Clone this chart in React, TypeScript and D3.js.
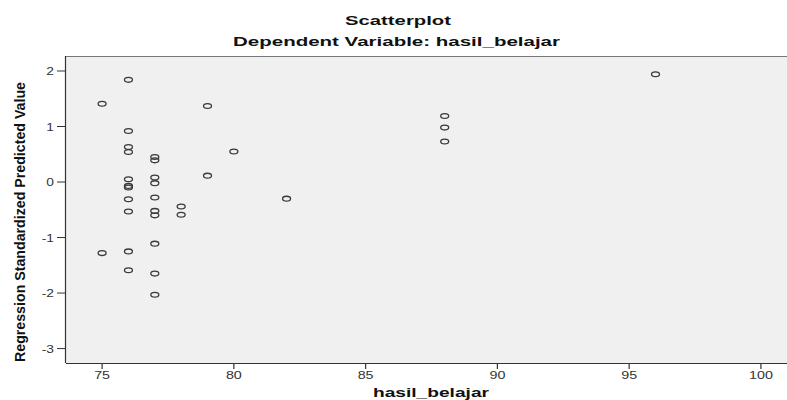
import React from "react";
import * as d3 from "d3";

const titleLines = ["Scatterplot", "Dependent Variable: hasil_belajar"];
const xLabel = "hasil_belajar";
const yLabel = "Regression Standardized Predicted Value";

const xTicks = [75, 80, 85, 90, 95, 100];
const yTicks = [2, 1, 0, -1, -2, -3];

// observed hasil_belajar values
const xValues = [
  75, 75,
  76, 76, 76, 76, 76, 76, 76, 76, 76, 76, 76,
  77, 77, 77, 77, 77, 77, 77, 77, 77, 77,
  78, 78,
  79, 79,
  80,
  82,
  88, 88, 88,
  96,
];
// regression standardized predicted values
const yValues = [
  1.41, -1.28,
  1.84, 0.92, 0.63, 0.54, 0.05, -0.07, -0.1, -0.31, -0.53, -1.25, -1.59,
  0.45, 0.39, 0.08, -0.02, -0.28, -0.52, -0.6, -1.11, -1.65, -2.03,
  -0.44, -0.59,
  1.37, 0.115,
  0.55,
  -0.3,
  1.19, 0.98, 0.73,
  1.94,
];

const W = 787;
const H = 400;
const plotLeft = 66;
const plotRight = 787;
const plotTop = 56;
const plotBottom = 363;

export default function App() {
  const x = d3.scaleLinear().domain([73.63, 100.99]).range([plotLeft, plotRight]);
  const y = d3.scaleLinear().domain([-3.26, 2.27]).range([plotBottom, plotTop]);
  const pts = xValues.map((v, i) => ({ x: v, y: yValues[i] }));
  const font = "'Liberation Sans', Arial, sans-serif";
  const ink = "#333";

  return (
    <svg
      width={W}
      height={H}
      style={{ position: "absolute", left: 0, top: 0, background: "#fff" }}
      fontFamily={font}
    >
      <rect x={0} y={0} width={W} height={H} fill="#fff" />
      <rect
        x={plotLeft}
        y={plotTop}
        width={plotRight - plotLeft}
        height={plotBottom - plotTop}
        fill="#f0f0f0"
      />
      {/* titles */}
      <text x={398} y={24.5} textAnchor="middle" fontWeight="bold" fontSize={13.5} fill="#111"
        textLength={106} lengthAdjust="spacingAndGlyphs">
        {titleLines[0]}
      </text>
      <text x={396.5} y={45.5} textAnchor="middle" fontWeight="bold" fontSize={13.5} fill="#111"
        textLength={327} lengthAdjust="spacingAndGlyphs">
        {titleLines[1]}
      </text>
      {/* frame lines */}
      <line x1={plotLeft} x2={plotRight} y1={plotTop + 0.5} y2={plotTop + 0.5} stroke="#777" strokeWidth={1} />
      <line x1={plotLeft - 0.5} x2={plotLeft - 0.5} y1={plotTop} y2={plotBottom} stroke={ink} strokeWidth={1.2} />
      <line x1={plotLeft} x2={plotRight} y1={plotBottom + 0.5} y2={plotBottom + 0.5} stroke={ink} strokeWidth={1.2} />
      {/* y ticks */}
      {yTicks.map((t) => (
        <g key={"y" + t}>
          <line x1={57} x2={plotLeft} y1={y(t)} y2={y(t)} stroke={ink} strokeWidth={1} />
          <text
            transform={`translate(54,${y(t) + 4}) scale(1.25,1)`}
            textAnchor="end"
            fontSize={11}
            fill={ink}
          >
            {t}
          </text>
        </g>
      ))}
      {/* x ticks */}
      {xTicks.map((t) => (
        <g key={"x" + t}>
          <line x1={x(t)} x2={x(t)} y1={plotBottom} y2={plotBottom + 6} stroke={ink} strokeWidth={1.2} />
          <text
            transform={`translate(${x(t)},378.5) scale(1.3,1)`}
            textAnchor="middle"
            fontSize={11}
            fill={ink}
          >
            {t}
          </text>
        </g>
      ))}
      {/* axis labels */}
      <text x={431} y={396.5} textAnchor="middle" fontWeight="bold" fontSize={13.5} fill="#111"
        textLength={116} lengthAdjust="spacingAndGlyphs">
        {xLabel}
      </text>
      <text
        transform={`translate(25,222) rotate(-90)`}
        textAnchor="middle"
        fontWeight="bold"
        fontSize={15}
        fill="#111"
        textLength={280}
        lengthAdjust="spacingAndGlyphs"
      >
        {yLabel}
      </text>
      {/* points */}
      {pts.map((p, i) => (
        <ellipse
          key={i}
          cx={x(p.x)}
          cy={y(p.y)}
          rx={4}
          ry={2.4}
          fill="none"
          stroke="#3a3a3a"
          strokeWidth={1.3}
        />
      ))}
    </svg>
  );
}
